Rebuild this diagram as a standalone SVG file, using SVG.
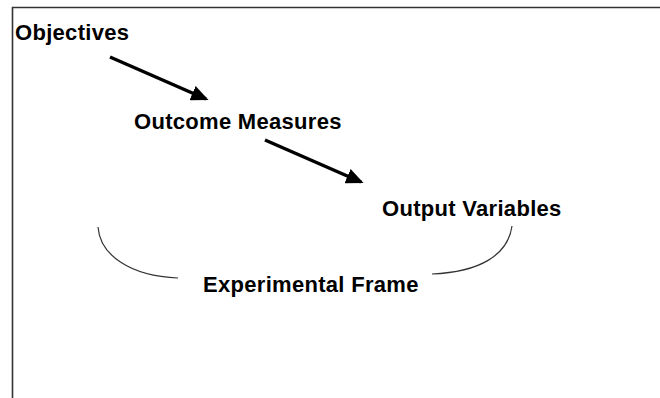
<svg xmlns="http://www.w3.org/2000/svg" width="660" height="398" viewBox="0 0 660 398">
<defs>
<style>
.t{font-family:"Liberation Sans",Arial,sans-serif;font-weight:bold;font-size:22px;letter-spacing:0.3px;fill:#000}
.a{stroke:#000;stroke-width:3.5;fill:none}
.arc{stroke:#333;stroke-width:1.2;fill:none}
</style>
<marker id="ah" markerWidth="5" markerHeight="4.4" refX="4.2" refY="2.2" orient="auto" markerUnits="strokeWidth">
<path d="M0,0 L5,2.2 L0,4.4 Z" fill="#000"/>
</marker>
</defs>
<rect width="660" height="398" fill="#fff"/>
<path d="M12.5,398 V7.5 H660" stroke="#333" stroke-width="1.6" fill="none"/>
<g id="objectives"><text class="t" x="15" y="40">Objectives</text></g>
<g id="outcome"><text class="t" x="134" y="129">Outcome Measures</text></g>
<g id="output"><text class="t" x="382" y="216">Output Variables</text></g>
<g id="frame"><text class="t" x="203" y="292">Experimental Frame</text></g>
<g id="connectors">
<line class="a" x1="110" y1="57" x2="206" y2="99" marker-end="url(#ah)"/>
<line class="a" x1="265" y1="140" x2="361" y2="182" marker-end="url(#ah)"/>
<path class="arc" d="M98,227 C100,255 130,276 178,278"/>
<path class="arc" d="M512,226 C508,255 480,272 432,274"/>
</g>
</svg>
